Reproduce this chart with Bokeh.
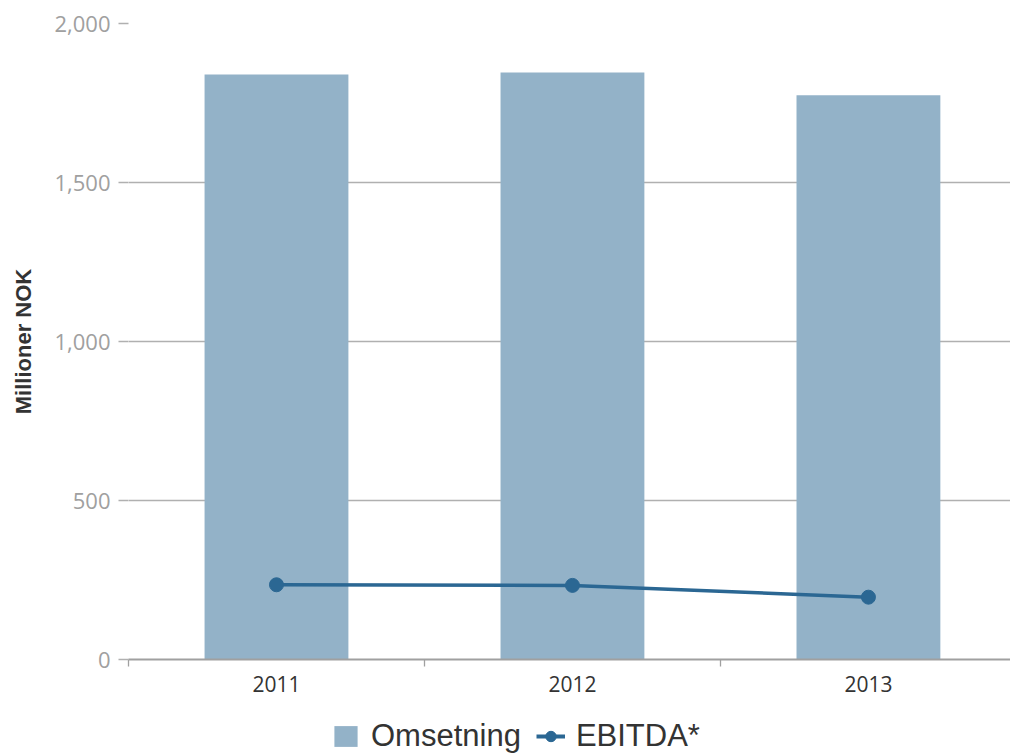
from bokeh.plotting import figure
from bokeh.layouts import column
from bokeh.models import (ColumnDataSource, Range1d, FixedTicker, NumeralTickFormatter,
                          Legend, LegendItem)
from bokeh.embed import file_html
from bokeh.resources import INLINE

years = ["2011", "2012", "2013"]
omsetning = [1840, 1846, 1774]
ebitda = [235, 233, 196]
series_names = ["Omsetning", "EBITDA*"]

BAR_COLOR = "#93b2c8"
LINE_COLOR = "#2b6793"

pos = [i + 1 for i in range(len(years))]
src = ColumnDataSource(dict(x=pos, year=years, oms=omsetning, ebitda=ebitda))

p = figure(width=1010, height=708, output_backend="svg", toolbar_location=None,
           x_range=Range1d(0.5, 3.48), y_range=Range1d(0, 2000),
           min_border_left=128, min_border_right=0, min_border_top=23,
           min_border_bottom=49)
p.outline_line_color = None

p.vbar(x="x", top="oms", width=0.486, source=src,
       fill_color=BAR_COLOR, line_color=None)
p.line(x="x", y="ebitda", source=src, line_color=LINE_COLOR, line_width=3.5)
p.scatter(x="x", y="ebitda", source=src, size=14,
          fill_color=LINE_COLOR, line_color=LINE_COLOR)

# grids
p.xgrid.grid_line_color = None
p.ygrid.grid_line_color = "#b0b0b0"
p.ygrid.grid_line_width = 1.3
p.ygrid.ticker = FixedTicker(ticks=[0, 500, 1000, 1500, 2000])

# y axis
ya = p.yaxis[0]
ya.ticker = FixedTicker(ticks=[0, 500, 1000, 1500, 2000])
ya.formatter = NumeralTickFormatter(format="0,0")
ya.axis_line_color = None
ya.major_tick_line_color = "#b0b0b0"
ya.major_tick_line_width = 1.3
ya.major_tick_out = 10
ya.major_tick_in = 0
ya.minor_tick_line_color = None
ya.major_label_text_font = "Open Sans"
ya.major_label_text_font_size = "22px"
ya.major_label_text_color = "#a0a0a0"
ya.major_label_standoff = 8
ya.axis_label = "Millioner NOK"
ya.axis_label_text_font = "Liberation Sans"
ya.axis_label_text_font_style = "bold"
ya.axis_label_text_font_size = "22px"
ya.axis_label_text_color = "#333333"
ya.axis_label_standoff = 15

# x axis
xa = p.xaxis[0]
xa.ticker = FixedTicker(ticks=pos, minor_ticks=[0.5, 1.5, 2.5, 3.5])
xa.major_label_overrides = {x: y for x, y in zip(pos, years)}
xa.axis_line_color = "#a0a0a0"
xa.axis_line_width = 2
xa.major_tick_line_color = None
xa.major_tick_out = 0
xa.major_tick_in = 0
xa.minor_tick_line_color = "#a0a0a0"
xa.minor_tick_line_width = 1.3
xa.minor_tick_out = 7
xa.minor_tick_in = 0
xa.major_label_text_font = "Open Sans"
xa.major_label_text_font_size = "21px"
xa.major_label_text_color = "#333333"
xa.major_label_standoff = 9

# legend strip (its renderers reuse the data but fall outside this strip's ranges)
lg = figure(width=1010, height=47, output_backend="svg", toolbar_location=None,
            x_range=Range1d(1000, 2000), y_range=Range1d(5000, 6000),
            x_axis_type=None, y_axis_type=None,
            min_border_left=0, min_border_right=0, min_border_top=0, min_border_bottom=0)
lg.outline_line_color = None
lg.xgrid.grid_line_color = None
lg.ygrid.grid_line_color = None
r_bar = lg.vbar(x="x", top="oms", width=0.486, source=src,
                fill_color=BAR_COLOR, line_color=None)
r_line = lg.line(x="x", y="ebitda", source=src, line_color=LINE_COLOR, line_width=4)
r_pts = lg.scatter(x="x", y="ebitda", source=src, size=15,
                   fill_color=LINE_COLOR, line_color=LINE_COLOR)

legend = Legend(items=[LegendItem(label=series_names[0], renderers=[r_bar]),
                       LegendItem(label=series_names[1], renderers=[r_line, r_pts])],
                orientation="horizontal", location=(203, 1),
                label_text_font="Liberation Sans", label_text_font_size="31px",
                label_text_color="#333333", glyph_width=29, glyph_height=26,
                label_standoff=11, spacing=15, padding=2, margin=0,
                border_line_color=None, background_fill_alpha=0)
lg.add_layout(legend, "center")

open("out.html", "w").write(file_html(column(p, lg, spacing=0), INLINE))
